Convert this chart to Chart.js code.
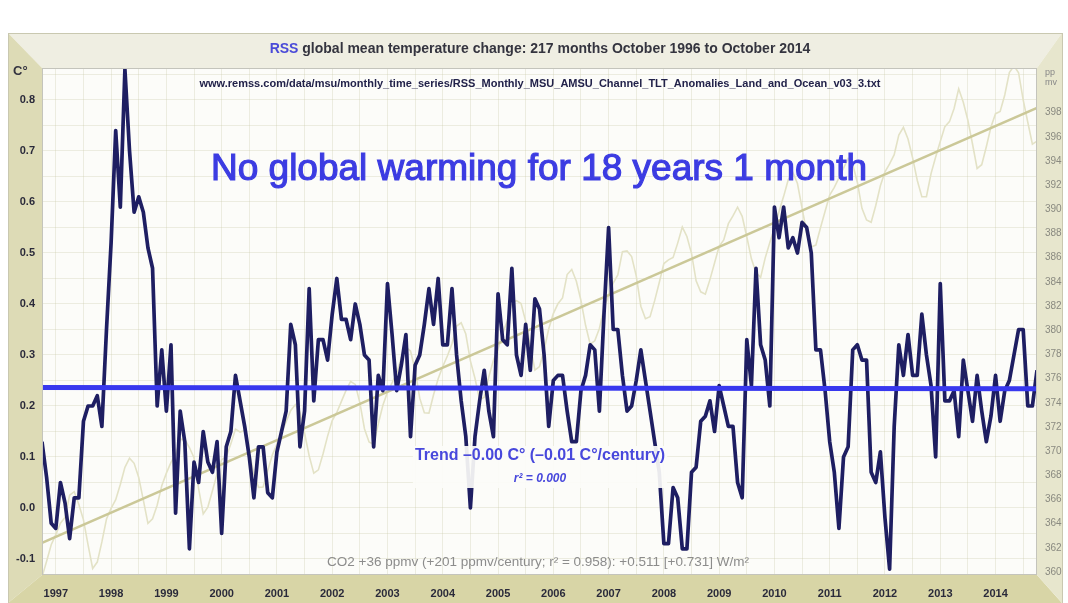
<!DOCTYPE html>
<html>
<head>
<meta charset="utf-8">
<title>RSS global mean temperature change</title>
<script src="https://cdn.jsdelivr.net/npm/chart.js@4/dist/chart.umd.min.js"></script>
<style>
    html, body { margin: 0; padding: 0; background: #fff; }
    .wrap { width: 1068px; height: 603px; }
</style>
</head>
<body>
<div class="wrap"><canvas id="myChart" width="1068" height="603"></canvas></div>
<script>

// months run from October 1996 (index 0) to October 2014 (index 216)
const yearLabels = ['1997','1998','1999','2000','2001','2002','2003','2004','2005',
    '2006','2007','2008','2009','2010','2011','2012','2013','2014']

// RSS TLT anomaly, C°
const tempAnomaly = [
    0.13, 0.06, -0.03,
    -0.04, 0.05, 0.01, -0.06, 0.02, 0.02, 0.17, 0.20, 0.20, 0.22, 0.16, 0.35,
    0.52, 0.74, 0.59, 0.86, 0.70, 0.58, 0.61, 0.58, 0.51, 0.47, 0.20, 0.31,
    0.19, 0.32, -0.01, 0.19, 0.13, -0.08, 0.09, 0.05, 0.15, 0.09, 0.07, 0.13,
    -0.05, 0.12, 0.15, 0.26, 0.21, 0.16, 0.10, 0.02, 0.12, 0.12, 0.03, 0.02,
    0.11, 0.15, 0.19, 0.36, 0.32, 0.12, 0.19, 0.43, 0.21, 0.33, 0.33, 0.29,
    0.38, 0.45, 0.37, 0.37, 0.33, 0.40, 0.36, 0.30, 0.29, 0.12, 0.26, 0.23,
    0.44, 0.34, 0.23, 0.28, 0.34, 0.14, 0.28, 0.30, 0.36, 0.43, 0.36, 0.45,
    0.32, 0.32, 0.43, 0.30, 0.21, 0.14, 0.00, 0.14, 0.21, 0.27, 0.19, 0.14,
    0.42, 0.33, 0.32, 0.47, 0.30, 0.26, 0.36, 0.27, 0.41, 0.39, 0.30, 0.16,
    0.25, 0.26, 0.26, 0.19, 0.13, 0.13, 0.23, 0.26, 0.32, 0.31, 0.19, 0.38,
    0.55, 0.35, 0.35, 0.26, 0.19, 0.20, 0.25, 0.31, 0.25, 0.19, 0.13, 0.07,
    -0.07, -0.07, 0.04, 0.02, -0.08, -0.08, 0.07, 0.08, 0.17, 0.18, 0.21, 0.15,
    0.24, 0.20, 0.16, 0.16, 0.05, 0.02, 0.33, 0.24, 0.47, 0.32, 0.29, 0.20,
    0.59, 0.53, 0.59, 0.51, 0.53, 0.50, 0.56, 0.55, 0.50, 0.31, 0.31, 0.23,
    0.13, 0.07, -0.04, 0.10, 0.12, 0.31, 0.32, 0.29, 0.29, 0.07, 0.05, 0.11,
    -0.02, -0.12, 0.16, 0.32, 0.26, 0.34, 0.26, 0.26, 0.38, 0.30, 0.24, 0.10,
    0.44, 0.21, 0.21, 0.23, 0.14, 0.29, 0.23, 0.17, 0.26, 0.19, 0.13, 0.18,
    0.26, 0.17, 0.23, 0.25, 0.30, 0.35, 0.35, 0.20, 0.20, 0.27
]

// Mauna Loa CO2, ppmv
const co2Monthly = [
    359.58, 360.89, 362.25,
    363.09, 364.03, 364.51, 366.35, 366.64, 365.59, 364.31, 362.25, 360.29, 360.82, 362.49, 364.38,
    365.26, 365.98, 367.24, 368.66, 369.42, 368.99, 367.82, 365.95, 364.02, 364.40, 365.52, 367.13,
    368.18, 369.07, 369.68, 370.99, 370.96, 370.30, 369.45, 366.90, 364.81, 365.37, 366.72, 368.10,
    369.29, 369.54, 370.60, 371.82, 371.58, 371.70, 369.86, 368.13, 367.00, 367.03, 368.37, 369.67,
    370.59, 371.51, 372.43, 373.37, 373.85, 373.22, 371.50, 369.61, 368.18, 368.45, 369.76, 371.24,
    372.53, 373.20, 374.12, 375.02, 375.76, 375.52, 374.01, 371.85, 370.75, 370.55, 372.25, 373.79,
    374.88, 375.64, 376.45, 377.73, 378.60, 378.28, 376.70, 374.38, 373.17, 373.14, 374.66, 375.99,
    377.00, 377.87, 378.88, 380.35, 380.62, 379.69, 377.47, 376.01, 374.25, 374.46, 376.16, 377.51,
    378.46, 379.73, 380.77, 382.29, 382.45, 382.21, 380.74, 378.74, 376.70, 377.00, 378.35, 380.11,
    381.38, 382.19, 382.67, 384.61, 385.03, 384.05, 382.46, 380.41, 378.85, 379.13, 380.15, 381.82,
    382.89, 383.90, 384.58, 386.50, 386.56, 386.10, 384.50, 381.99, 380.96, 381.12, 382.45, 383.95,
    385.52, 385.82, 386.03, 387.21, 388.54, 387.76, 386.36, 384.09, 383.18, 382.99, 384.19, 385.56,
    386.94, 387.48, 388.82, 389.46, 390.18, 389.43, 387.74, 385.91, 384.77, 384.38, 385.99, 387.26,
    388.45, 389.82, 391.08, 392.46, 393.05, 392.14, 390.11, 388.09, 386.89, 387.05, 388.48, 389.85,
    391.19, 391.83, 392.61, 393.41, 394.21, 393.71, 392.25, 390.09, 389.12, 388.93, 390.32, 391.95,
    393.11, 393.76, 394.53, 396.15, 396.79, 395.82, 394.26, 392.41, 391.05, 391.06, 392.96, 394.34,
    395.61, 396.85, 397.26, 398.35, 399.98, 398.87, 397.37, 395.41, 393.39, 393.70, 395.19, 396.82,
    397.92, 398.10, 399.47, 401.33, 401.88, 401.31, 399.07, 397.21, 395.40, 395.65
]

// trend end values (first month, last month)
const tempTrend = [0.236, 0.234]
const co2Trend = [362.4, 398.4]

const tempTicks = [-0.1, -0.05, 0, 0.05, 0.1, 0.15, 0.2, 0.25, 0.3, 0.35, 0.4, 0.45, 0.5, 0.55, 0.6, 0.65, 0.7, 0.75, 0.8, 0.85]
const ppmvTicks = [360, 362, 364, 366, 368, 370, 372, 374, 376, 378, 380, 382, 384, 386, 388, 390, 392, 394, 396, 398]

const lastMonth = tempAnomaly.length - 1
const FONT = '"Liberation Sans", Arial, sans-serif'
const GRID = 'rgba(200,198,165,0.3)'

function poly(ctx, pts, color){
    ctx.beginPath()
    ctx.moveTo(pts[0][0], pts[0][1])
    for(let i=1; i<pts.length; i++) ctx.lineTo(pts[i][0], pts[i][1])
    ctx.closePath()
    ctx.fillStyle = color
    ctx.fill()
}

const frame = {
    id: 'frame',
    beforeDraw(chart){
        const {ctx, chartArea: a} = chart
        const L = 8, T = 33, R = 1062, B = 603
        ctx.save()
        poly(ctx, [[L,T],[R,T],[a.right,a.top],[a.left,a.top]], '#efeee2')
        poly(ctx, [[L,T],[a.left,a.top],[a.left,a.bottom],[L,B]], '#dddbb6')
        poly(ctx, [[a.left,a.bottom],[a.right,a.bottom],[R,B],[L,B]], '#d8d5a6')
        poly(ctx, [[a.right,a.top],[R,T],[R,B],[a.right,a.bottom]], '#e7e6cd')
        ctx.strokeStyle = '#c9c8b0'
        ctx.lineWidth = 1
        ctx.strokeRect(L+0.5, T+0.5, R-L, B-T)
        ctx.fillStyle = '#fcfcf9'
        ctx.fillRect(a.left, a.top, a.right-a.left, a.bottom-a.top)
        ctx.restore()
    },
    afterDraw(chart){
        const {ctx, chartArea: a} = chart
        ctx.save()
        ctx.strokeStyle = '#c4c4bc'
        ctx.lineWidth = 1
        ctx.strokeRect(a.left+0.5, a.top+0.5, a.right-a.left-1, a.bottom-a.top-1)

        // title
        ctx.textBaseline = 'middle'
        ctx.font = 'bold 14px ' + FONT
        const t1 = 'RSS', t2 = ' global mean temperature change: 217 months October 1996 to October 2014'
        const w1 = ctx.measureText(t1).width, w2 = ctx.measureText(t2).width
        let x = 540 - (w1+w2)/2
        ctx.textAlign = 'left'
        ctx.fillStyle = '#4a4ad8'
        ctx.fillText(t1, x, 49)
        ctx.fillStyle = '#34343f'
        ctx.fillText(t2, x+w1, 49)

        // axis captions
        ctx.font = 'bold 13px ' + FONT
        ctx.fillStyle = '#33333f'
        ctx.fillText('C°', 13, 71)
        ctx.font = '9px ' + FONT
        ctx.fillStyle = '#888'
        ctx.fillText('pp', 1045, 73)
        ctx.fillText('mv', 1045, 83)

        ctx.textAlign = 'center'
        ctx.font = 'bold 11px ' + FONT
        ctx.fillStyle = '#22224a'
        ctx.fillText('www.remss.com/data/msu/monthly_time_series/RSS_Monthly_MSU_AMSU_Channel_TLT_Anomalies_Land_and_Ocean_v03_3.txt', 540, 84)

        ctx.font = '37px ' + FONT
        ctx.fillStyle = '#3c3ce2'
        ctx.strokeStyle = '#3c3ce2'
        ctx.lineWidth = 1.2
        ctx.fillText('No global warming for 18 years 1 month', 539, 170)
        ctx.strokeText('No global warming for 18 years 1 month', 539, 170)

        // trend note, over a pale box
        ctx.font = 'bold 16px ' + FONT
        const tr = 'Trend –0.00 C° (–0.01 C°/century)'
        const tw = ctx.measureText(tr).width
        ctx.fillStyle = 'rgba(252,252,249,0.92)'
        ctx.fillRect(540 - tw/2 - 2, 446, tw + 4, 42)
        ctx.fillStyle = '#4848dc'
        ctx.fillText(tr, 540, 456)
        ctx.font = 'italic bold 12px ' + FONT
        ctx.fillText('r² = 0.000', 540, 479)

        ctx.font = '13.5px ' + FONT
        ctx.fillStyle = '#8c8c8c'
        ctx.fillText('CO2 +36 ppmv (+201 ppmv/century; r² = 0.958): +0.511 [+0.731] W/m²', 538, 562)
        ctx.restore()
    }
}

const ctx = document.getElementById('myChart')

const data = {
    datasets: [
        {
            label: 'Trend',
            data: [{x: 0, y: tempTrend[0]}, {x: lastMonth, y: tempTrend[1]}],
            borderColor: '#3838ee',
            borderWidth: 5,
            yAxisID: 'y'
        },
        {
            label: 'RSS',
            data: tempAnomaly.map((v, i) => ({x: i, y: v})),
            borderColor: '#1e1e62',
            borderWidth: 3.7,
            borderJoinStyle: 'round',
            yAxisID: 'y'
        },
        {
            label: 'CO2 trend',
            data: [{x: 0, y: co2Trend[0]}, {x: lastMonth, y: co2Trend[1]}],
            borderColor: '#cbc898',
            borderWidth: 2.5,
            yAxisID: 'y2'
        },
        {
            label: 'CO2',
            data: co2Monthly.map((v, i) => ({x: i, y: v})),
            borderColor: '#e3e2c6',
            borderWidth: 1.6,
            yAxisID: 'y2'
        }
    ]
}

const chart = new Chart(ctx, {
    type: 'line',
    data: data,
    plugins: [frame],
    options: {
        responsive: false,
        animation: false,
        layout: { padding: { top: 68, left: 0, right: 0, bottom: 0 } },
        elements: { point: { radius: 0 }, line: { tension: 0 } },
        plugins: {
            legend: { display: false },
            tooltip: { enabled: false }
        },
        scales: {
            x: {
                type: 'linear',
                min: 0,
                max: lastMonth,
                afterBuildTicks: (s) => {
                    const t = []
                    for(let m=3; m<=lastMonth; m+=6) t.push({value: m})
                    s.ticks = t
                },
                afterFit: (s) => { s.height = 28 },
                ticks: {
                    padding: 12,
                    maxRotation: 0,
                    autoSkip: false,
                    color: '#2a2a3a',
                    font: { family: FONT, size: 11, weight: 'bold' },
                    callback: (v) => (v - 3) % 12 === 0 ? yearLabels[(v - 3) / 12] : ''
                },
                grid: { color: GRID, drawTicks: false },
                border: { display: false }
            },
            y: {
                position: 'left',
                min: -0.1314,
                max: 0.8627,
                afterBuildTicks: (s) => { s.ticks = tempTicks.map(v => ({value: v})) },
                afterFit: (s) => { s.width = 42 },
                ticks: {
                    padding: 7,
                    color: '#2a2a3a',
                    font: { family: FONT, size: 11, weight: 'bold' },
                    callback: (v) => Math.abs(Math.round(v*100)) % 10 === 0 ? v.toFixed(1) : ''
                },
                grid: { color: GRID, drawTicks: false },
                border: { display: false }
            },
            y2: {
                position: 'right',
                min: 359.75,
                max: 401.7,
                afterBuildTicks: (s) => { s.ticks = ppmvTicks.map(v => ({value: v})) },
                afterFit: (s) => { s.width = 31 },
                ticks: {
                    padding: 8,
                    color: '#8a8a80',
                    font: { family: FONT, size: 10 }
                },
                grid: { display: false, drawTicks: false },
                border: { display: false }
            }
        }
    }
})

</script>
</body>
</html>
